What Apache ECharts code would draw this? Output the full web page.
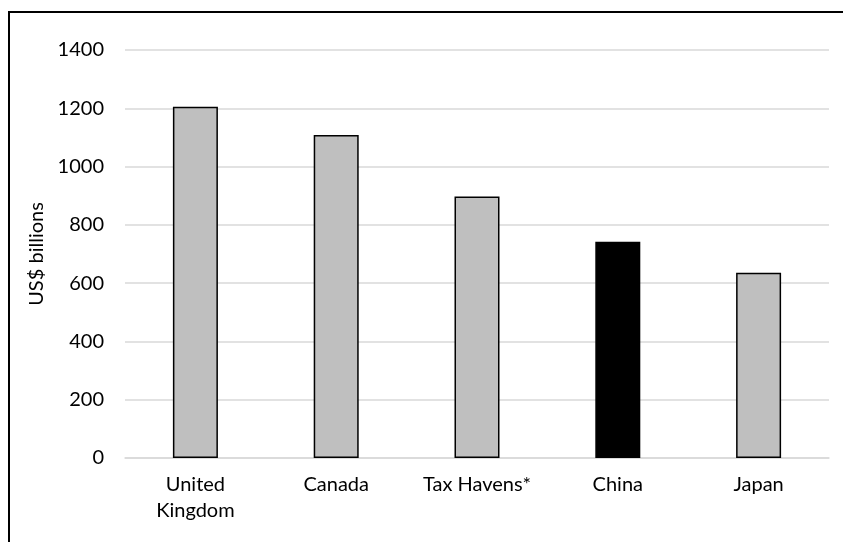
<!DOCTYPE html>
<html>
<head>
<meta charset="utf-8">
<script src="https://cdn.jsdelivr.net/npm/echarts@6/dist/echarts.min.js"></script>
<style>
  html, body { margin: 0; padding: 0; background: #fff; }
  #chart { width: 843px; height: 542px; }
</style>
</head>
<body>
<div id="chart"></div>
<script>
// 数据
const categories = ['United\nKingdom', 'Canada', 'Tax Havens*', 'China', 'Japan']
const values = [1205, 1108, 897, 742, 636]
const highlight = 'China'
const yTicks = { min: 0, max: 1400, interval: 200 }

const FONT = 'Lato'

const chart = echarts.init(document.getElementById('chart'))

const option = {
  animation: false,
  backgroundColor: '#fff',
  graphic: [{
    type: 'rect',
    shape: { x: 9, y: 12, width: 900, height: 600 },
    style: { fill: 'none', stroke: '#000', lineWidth: 2 },
    silent: true
  }],
  grid: { left: 125, right: 14, top: 50, bottom: 84 },
  xAxis: {
    type: 'category',
    data: categories,
    axisLine: { show: true, lineStyle: { color: '#d9d9d9', width: 1.5 } },
    axisTick: { show: false },
    axisLabel: {
      color: '#000',
      fontFamily: FONT,
      fontSize: 20,
      lineHeight: 26,
      margin: 14,
      interval: 0
    }
  },
  yAxis: {
    type: 'value',
    min: yTicks.min,
    max: yTicks.max,
    interval: yTicks.interval,
    name: 'US$ billions',
    nameLocation: 'middle',
    nameGap: 67,
    nameTextStyle: { color: '#000', fontFamily: FONT, fontSize: 20 },
    axisLine: { show: false },
    axisTick: { show: false },
    axisLabel: {
      color: '#000',
      fontFamily: FONT,
      fontSize: 20,
      margin: 21,
      formatter: v => String(v)
    },
    splitLine: { lineStyle: { color: '#d9d9d9', width: 1.5 } }
  },
  series: [{
    type: 'bar',
    barWidth: 45,
    data: values.map((v, i) => ({
      value: v,
      itemStyle: { color: categories[i] === highlight ? '#000' : '#bfbfbf' }
    })),
    itemStyle: { borderColor: '#000', borderWidth: 1.5 }
  }]
}

chart.setOption(option)
</script>
</body>
</html>
